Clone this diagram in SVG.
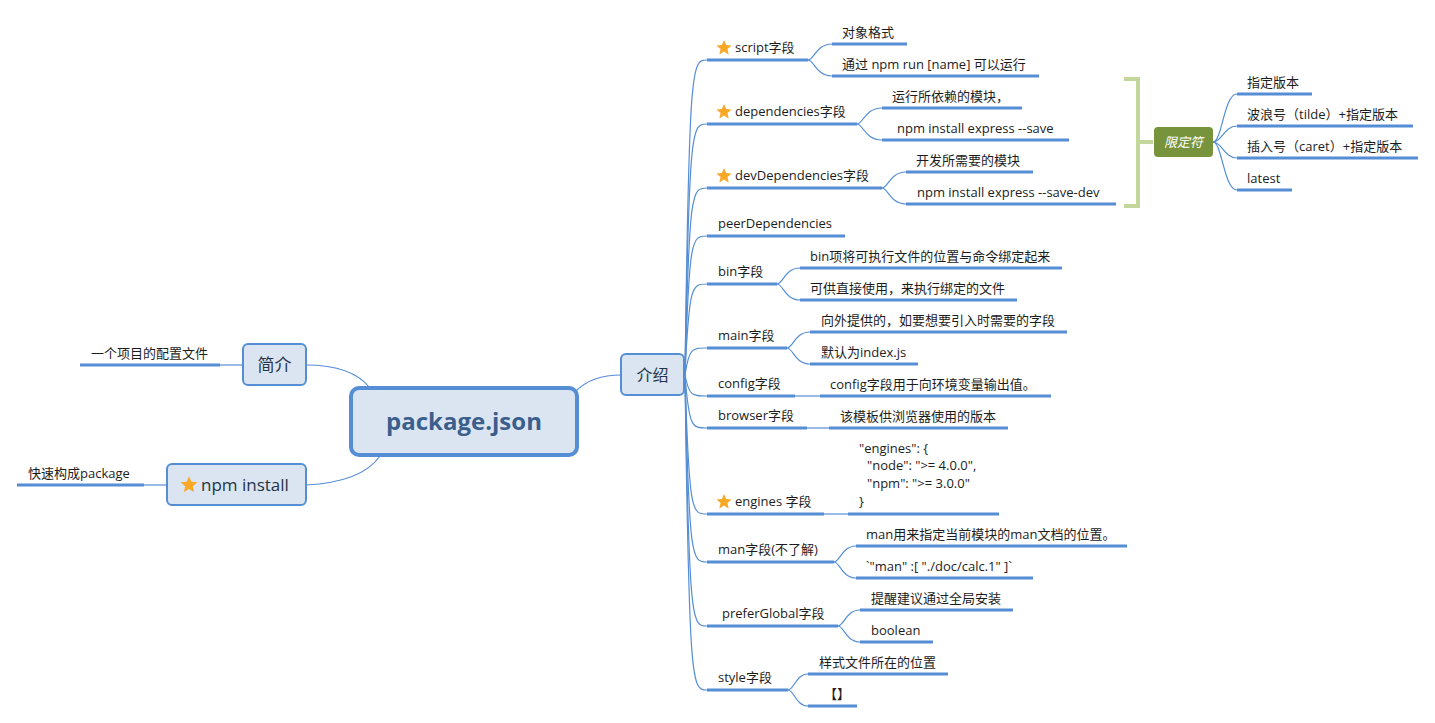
<svg xmlns="http://www.w3.org/2000/svg" xmlns:xlink="http://www.w3.org/1999/xlink" width="1435" height="723" viewBox="0 0 1435 723">
<style>
text{font-family:"Open Sans","Noto Sans CJK SC",sans-serif;font-size:13px;fill:#1c1c1c}
.ul{stroke:#558ed5;stroke-width:3;fill:none}
.cn{stroke:#558ed5;stroke-width:1.2;fill:none}
.box{fill:#dbe5f1;stroke:#558ed5;stroke-width:2}
.nt{fill:#243447;text-anchor:middle}
.star{fill:#f9a825}
</style>
<defs>
<path id="star" class="star" d="M0,-8 L2.12,-2.91 L7.61,-2.47 L3.42,1.11 L4.70,6.47 L0,3.6 L-4.70,6.47 L-3.42,1.11 L-7.61,-2.47 L-2.12,-2.91 Z"/>
</defs>
<rect width="1435" height="723" fill="#ffffff"/>

<g id="connectors">
<path class="cn" d="M306,365 Q352,365 370,388"/>
<path class="cn" d="M306,485 Q362,482 380,456"/>
<path class="cn" d="M576,391 Q592,375 621,375"/>
<path class="cn" d="M220,365 L242,365"/>
<path class="cn" d="M144,485 L167,485"/>
<path class="cn" d="M685,375 C689,60 692,60 707,60"/>
<path class="cn" d="M685,375 C689,124 692,124 707,124"/>
<path class="cn" d="M685,375 C689,188 692,188 707,188"/>
<path class="cn" d="M685,375 C689,236 692,236 707,236"/>
<path class="cn" d="M685,375 C689,284 692,284 707,284"/>
<path class="cn" d="M685,375 C689,348 692,348 707,348"/>
<path class="cn" d="M685,375 C689,396 692,396 707,396"/>
<path class="cn" d="M685,375 C689,428 692,428 707,428"/>
<path class="cn" d="M685,375 C689,514 692,514 707,514"/>
<path class="cn" d="M685,375 C689,562 692,562 707,562"/>
<path class="cn" d="M685,375 C689,626 692,626 707,626"/>
<path class="cn" d="M685,375 C689,690 692,690 707,690"/>
<path class="cn" d="M808,60 C814,60 816,44 832,44"/>
<path class="cn" d="M808,60 C814,60 816,76 832,76"/>
<path class="cn" d="M857,124 C863,124 865,108 882,108"/>
<path class="cn" d="M857,124 C863,124 865,140 882,140"/>
<path class="cn" d="M882,188 C888,188 890,172 906,172"/>
<path class="cn" d="M882,188 C888,188 890,204 906,204"/>
<path class="cn" d="M777,284 C783,284 785,268 800,268"/>
<path class="cn" d="M777,284 C783,284 785,300 800,300"/>
<path class="cn" d="M787,348 C793,348 795,332 810,332"/>
<path class="cn" d="M787,348 C793,348 795,364 810,364"/>
<path class="cn" d="M795,396 L820,396"/>
<path class="cn" d="M807,428 L829,428"/>
<path class="cn" d="M824,514 L848,514"/>
<path class="cn" d="M834,562 C840,562 842,546 856,546"/>
<path class="cn" d="M834,562 C840,562 842,578 856,578"/>
<path class="cn" d="M838,626 C844,626 846,610 860,610"/>
<path class="cn" d="M838,626 C844,626 846,642 860,642"/>
<path class="cn" d="M788,690 C794,690 796,674 808,674"/>
<path class="cn" d="M788,690 C794,690 796,706 808,706"/>
<path class="cn" d="M1213,142 C1222,142 1224,94 1237,94"/>
<path class="cn" d="M1213,142 C1222,142 1224,126 1237,126"/>
<path class="cn" d="M1213,142 C1222,142 1224,158 1237,158"/>
<path class="cn" d="M1213,142 C1222,142 1224,190 1237,190"/>
</g>

<g id="root">
<rect x="351" y="388" width="226" height="67" rx="8" fill="#dbe5f1" stroke="#558ed5" stroke-width="4"/>
<text x="464" y="430" text-anchor="middle" style="font-size:24px;font-weight:bold;fill:#3a5f8c">package.json</text>
</g>

<g id="node-jianjie">
<rect class="box" x="243" y="344" width="63" height="41" rx="5"/>
<text class="nt" x="274.5" y="371" style="font-size:17px">简介</text>
</g>
<g id="leaf-jianjie">
<path class="ul" d="M80,365 L220,365"/>
<text x="91" y="358">一个项目的配置文件</text>
</g>

<g id="node-npminstall">
<rect class="box" x="167" y="464" width="139" height="41" rx="5"/>
<use xlink:href="#star" href="#star" transform="translate(189,485) scale(1.1)"/>
<text x="201" y="491" style="font-size:17px;fill:#243447">npm install</text>
</g>
<g id="leaf-npminstall">
<path class="ul" d="M17,485 L144,485"/>
<text x="28" y="478">快速构成package</text>
</g>

<g id="node-jieshao">
<rect class="box" x="621" y="354" width="63" height="41" rx="5"/>
<text class="nt" x="652.5" y="381" style="font-size:16px">介绍</text>
</g>

<g id="b-script">
<path class="ul" d="M707,60 L808,60"/>
<use xlink:href="#star" href="#star" x="724" y="48"/>
<text x="735" y="52">script字段</text>
<path class="ul" d="M832,44 L907,44"/><text x="842" y="37">对象格式</text>
<path class="ul" d="M832,76 L1039,76"/><text x="842" y="69">通过 npm run [name] 可以运行</text>
</g>

<g id="b-dependencies">
<path class="ul" d="M707,124 L857,124"/>
<use xlink:href="#star" href="#star" x="724" y="112"/>
<text x="735" y="116">dependencies字段</text>
<path class="ul" d="M882,108 L1022,108"/><text x="892" y="101">运行所依赖的模块，</text>
<path class="ul" d="M882,140 L1069,140"/><text x="897" y="133">npm install express --save</text>
</g>

<g id="b-devdependencies">
<path class="ul" d="M707,188 L882,188"/>
<use xlink:href="#star" href="#star" x="724" y="176"/>
<text x="735" y="180">devDependencies字段</text>
<path class="ul" d="M906,172 L1033,172"/><text x="916" y="165">开发所需要的模块</text>
<path class="ul" d="M906,204 L1116,204"/><text x="917" y="197">npm install express --save-dev</text>
</g>

<g id="qualifier">
<path d="M1124,79 L1138,79 L1138,206 L1124,206 M1138,142 L1153,142" fill="none" stroke="#c3d69b" stroke-width="4"/>
<rect x="1154" y="127" width="59" height="30" rx="4" fill="#77933c"/>
<text x="1183.5" y="147" text-anchor="middle" style="font-style:italic;fill:#ffffff">限定符</text>
<path class="ul" d="M1237,94 L1312,94"/><text x="1247" y="87">指定版本</text>
<path class="ul" d="M1237,126 L1413,126"/><text x="1247" y="119">波浪号（tilde）+指定版本</text>
<path class="ul" d="M1237,158 L1418,158"/><text x="1247" y="151">插入号（caret）+指定版本</text>
<path class="ul" d="M1237,190 L1292,190"/><text x="1247" y="183">latest</text>
</g>

<g id="b-peer">
<path class="ul" d="M707,236 L845,236"/>
<text x="718" y="228">peerDependencies</text>
</g>

<g id="b-bin">
<path class="ul" d="M707,284 L777,284"/>
<text x="718" y="276">bin字段</text>
<path class="ul" d="M800,268 L1062,268"/><text x="810" y="261">bin项将可执行文件的位置与命令绑定起来</text>
<path class="ul" d="M800,300 L1017,300"/><text x="810" y="293">可供直接使用，来执行绑定的文件</text>
</g>

<g id="b-main">
<path class="ul" d="M707,348 L787,348"/>
<text x="718" y="340">main字段</text>
<path class="ul" d="M810,332 L1067,332"/><text x="821" y="325">向外提供的，如要想要引入时需要的字段</text>
<path class="ul" d="M810,364 L918,364"/><text x="821" y="357">默认为index.js</text>
</g>

<g id="b-config">
<path class="ul" d="M707,396 L795,396"/>
<text x="718" y="388">config字段</text>
<path class="ul" d="M820,396 L1051,396"/><text x="830" y="389">config字段用于向环境变量输出值。</text>
</g>

<g id="b-browser">
<path class="ul" d="M707,428 L807,428"/>
<text x="718" y="420">browser字段</text>
<path class="ul" d="M829,428 L1008,428"/><text x="840" y="421">该模板供浏览器使用的版本</text>
</g>

<g id="b-engines">
<path class="ul" d="M707,514 L824,514"/>
<use xlink:href="#star" href="#star" x="724" y="502"/>
<text x="735" y="506">engines 字段</text>
<path class="ul" d="M848,514 L999,514"/>
<text x="859" y="453">"engines": {</text>
<text x="867" y="470">"node": "&gt;= 4.0.0",</text>
<text x="867" y="488">"npm": "&gt;= 3.0.0"</text>
<text x="859" y="506">}</text>
</g>

<g id="b-man">
<path class="ul" d="M707,562 L834,562"/>
<text x="718" y="554">man字段(不了解)</text>
<path class="ul" d="M856,546 L1127,546"/><text x="866" y="539">man用来指定当前模块的man文档的位置。</text>
<path class="ul" d="M856,578 L1033,578"/><text x="866" y="571">`"man" :[ "./doc/calc.1" ]`</text>
</g>

<g id="b-preferglobal">
<path class="ul" d="M707,626 L838,626"/>
<text x="722" y="618">preferGlobal字段</text>
<path class="ul" d="M860,610 L1013,610"/><text x="871" y="603">提醒建议通过全局安装</text>
<path class="ul" d="M860,642 L933,642"/><text x="871" y="635">boolean</text>
</g>

<g id="b-style">
<path class="ul" d="M707,690 L788,690"/>
<text x="718" y="682">style字段</text>
<path class="ul" d="M808,674 L948,674"/><text x="819" y="667">样式文件所在的位置</text>
<path class="ul" d="M808,706 L857,706"/><text x="824" y="699">【】</text>
</g>
</svg>
